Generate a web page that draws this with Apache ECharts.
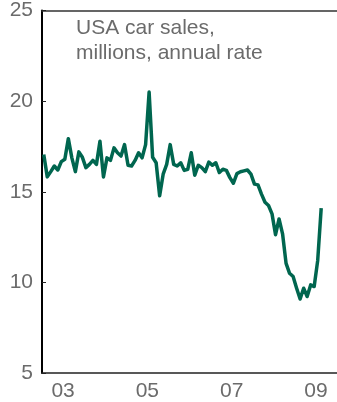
<!DOCTYPE html>
<html>
<head>
<meta charset="utf-8">
<script src="https://cdn.jsdelivr.net/npm/echarts@6/dist/echarts.min.js"></script>
<style>
  html, body { margin: 0; padding: 0; background: #fff; }
  #chart { width: 337px; height: 402px; }
</style>
</head>
<body>
<div id="chart"></div>
<script>
// monthly, Jan 2003 .. Aug 2009
var startYear = 2003;
var sales = [
  17.06, 15.82, 16.11, 16.42, 16.2, 16.66, 16.79, 17.93, 16.87, 16.11, 17.2, 16.9,
  16.33, 16.51, 16.73, 16.51, 17.79, 15.82, 16.87, 16.73, 17.42, 17.15, 16.97, 17.6,
  16.46, 16.42, 16.73, 17.15, 16.87, 17.6, 20.5, 16.9, 16.6, 14.78, 15.97, 16.51,
  17.6, 16.51, 16.42, 16.6, 16.18, 16.24, 17.15, 15.91, 16.46, 16.33, 16.11, 16.64,
  16.46, 16.6, 16.06, 16.24, 16.18, 15.78, 15.47, 16.0, 16.1, 16.15, 16.2, 15.97,
  15.42, 15.38, 14.87, 14.42, 14.24, 13.78, 12.63, 13.5, 12.68, 11.05, 10.5, 10.32,
  9.68, 9.08, 9.68, 9.22, 9.86, 9.77, 11.2, 14.1
];
var yearLabels = ['03', '04', '05', '06', '07', '08', '09'];
var titleLines = ['USA car sales,', 'millions, annual rate'];

var points = sales.map(function (v, i) {
  return [startYear + (i + 0.5) / 12, v];
});

var grey = '#6b6b6b';
var font = 'Liberation Sans, Arial, sans-serif';

var chart = echarts.init(document.getElementById('chart'));
chart.setOption({
  animation: false,
  title: {
    text: titleLines.join('\n'),
    left: 76,
    top: 16,
    padding: 0,
    textStyle: {
      fontFamily: font,
      fontSize: 21,
      fontWeight: 'normal',
      lineHeight: 25,
      color: grey
    }
  },
  grid: {
    left: 42,
    right: 0,
    top: 8,
    bottom: 28
  },
  xAxis: [{
    type: 'value',
    min: startYear,
    max: startYear + yearLabels.length,
    show: false
  }, {
    type: 'category',
    position: 'bottom',
    data: yearLabels,
    axisLine: { lineStyle: { color: '#222', width: 1.5 } },
    axisTick: { inside: true, length: 4, interval: 0, lineStyle: { color: '#222' } },
    axisLabel: { interval: 1, margin: 8, fontFamily: font, fontSize: 21, color: grey }
  }, {
    type: 'category',
    position: 'top',
    data: yearLabels,
    axisLine: { lineStyle: { color: '#333', width: 1.5 } },
    axisTick: { show: false },
    axisLabel: { show: false }
  }],
  yAxis: {
    type: 'value',
    min: 5,
    max: 25,
    interval: 5,
    axisLine: { show: true, lineStyle: { color: '#000', width: 2 } },
    axisTick: { show: true, inside: true, length: 4, lineStyle: { color: '#222' } },
    splitLine: { show: false },
    axisLabel: { margin: 9, padding: [5, 0, 0, 0], fontFamily: font, fontSize: 21, color: grey }
  },
  series: [{
    type: 'line',
    xAxisIndex: 0,
    data: points,
    showSymbol: false,
    lineStyle: { color: '#00664f', width: 3.5, join: 'round' }
  }]
});
</script>
</body>
</html>
